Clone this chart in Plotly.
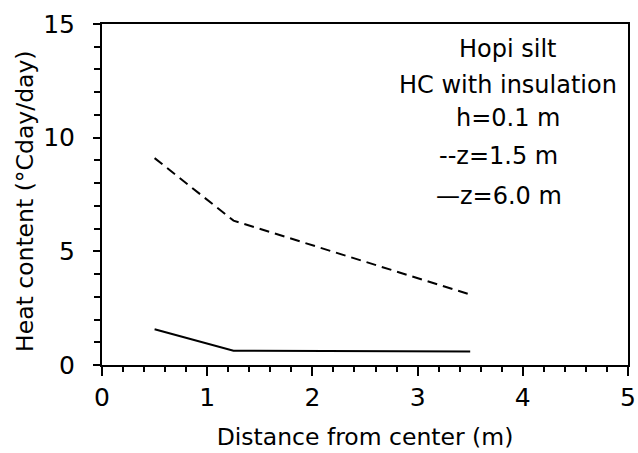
import plotly.graph_objects as go

distance = [0.5, 1.25, 3.5]
heat_z15 = [9.1, 6.35, 3.1]
heat_z60 = [1.57, 0.63, 0.59]

notes = ["Hopi silt", "HC with insulation", "h=0.1 m", "--z=1.5 m", "\u2014z=6.0 m"]
note_x = [3.86, 3.86, 3.86, 3.77, 3.77]
note_y = [13.9, 12.3, 10.85, 9.2, 7.45]

FONT = "DejaVu Sans"
W, H = 638, 453
ML, MR, MT, MB = 102, 10, 24, 88

fig = go.Figure()
fig.add_trace(go.Scatter(x=distance, y=heat_z15, mode="lines",
                         line=dict(color="black", width=2, dash="10px,6px"), showlegend=False))
fig.add_trace(go.Scatter(x=distance, y=heat_z60, mode="lines",
                         line=dict(color="black", width=2), showlegend=False))

for t, x, y in zip(notes, note_x, note_y):
    fig.add_annotation(x=x, y=y, text=t, showarrow=False, xanchor="center", yanchor="middle",
                       font=dict(family=FONT, size=24, color="black"))

# y-axis title as a rotated annotation for precise placement
fig.add_annotation(xref="paper", yref="paper",
                   x=(25 - ML) / (W - ML - MR), y=(H - MB - 201) / (H - MT - MB),
                   text="Heat content (\u00b0Cday/day)", textangle=-90, showarrow=False,
                   xanchor="center", yanchor="middle",
                   font=dict(family=FONT, size=23.5, color="black"))

axis_common = dict(showline=True, linecolor="black", linewidth=2, mirror=True, showgrid=False,
                   zeroline=False, ticks="outside", tickcolor="black", tickwidth=1.5,
                   automargin=False,
                   tickfont=dict(family=FONT, size=25, color="black"))

fig.update_xaxes(range=[0, 5], dtick=1, tick0=0, ticklen=9,
                 minor=dict(dtick=0.2, ticklen=5, ticks="outside", tickcolor="black", tickwidth=1.5),
                 title=dict(text="Distance from center (m)", font=dict(family=FONT, size=23.5, color="black"),
                            standoff=18),
                 **axis_common)
fig.update_yaxes(range=[0, 15], dtick=5, tick0=0, ticklen=7, ticklabelstandoff=13,
                 minor=dict(dtick=1, ticklen=6, ticks="outside", tickcolor="black", tickwidth=1.5),
                 **axis_common)

fig.update_layout(width=W, height=H, margin=dict(l=ML, r=MR, t=MT, b=MB),
                  plot_bgcolor="white", paper_bgcolor="white",
                  font=dict(family=FONT, color="black"))

fig.write_html("out.html")
